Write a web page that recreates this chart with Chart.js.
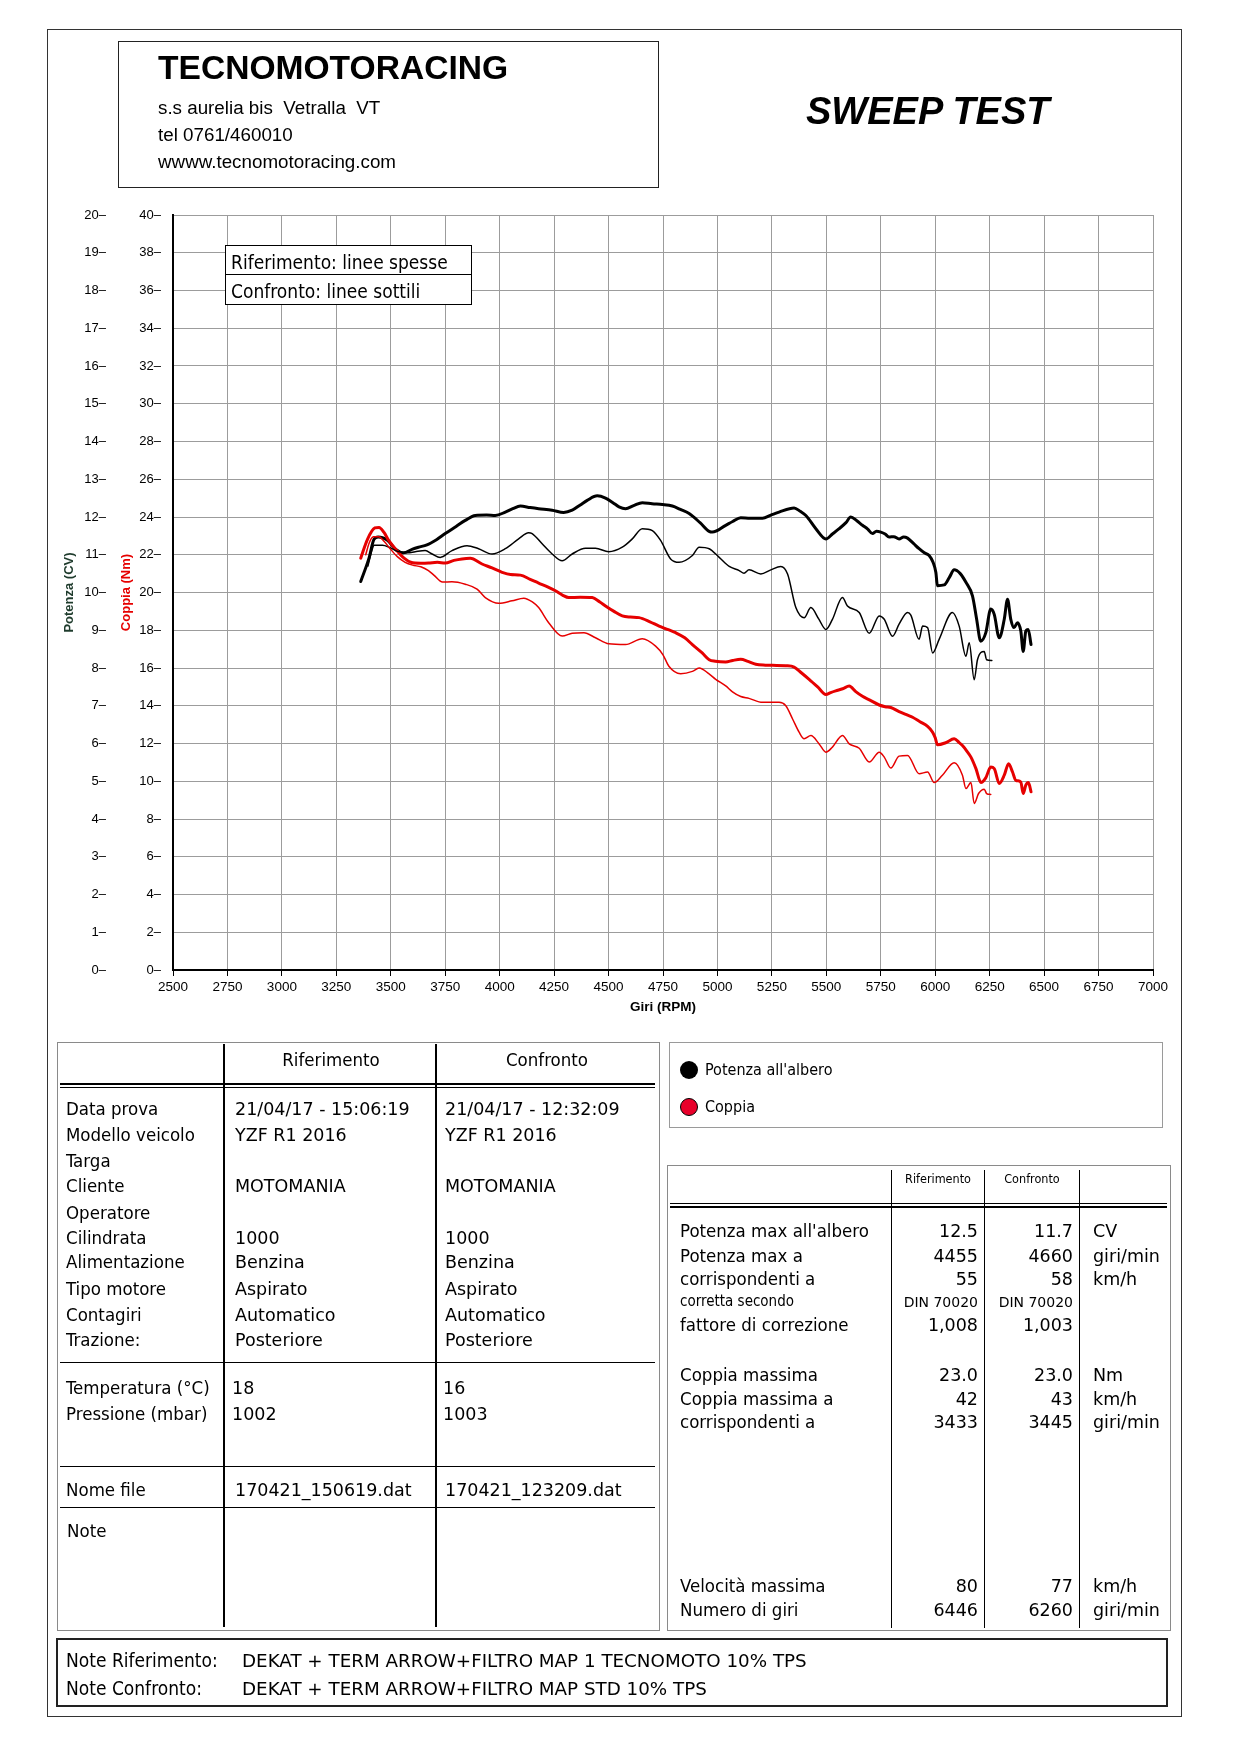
<!DOCTYPE html>
<html>
<head>
<meta charset="utf-8">
<script src="https://cdn.jsdelivr.net/npm/chart.js@4.4.1/dist/chart.umd.min.js"></script>
<style>
html,body{margin:0;padding:0;background:#fff;}
body{width:1240px;height:1754px;position:relative;overflow:hidden;color:#000;}
.t{position:absolute;white-space:pre;}
.ln{position:absolute;}
.bx{position:absolute;box-sizing:border-box;}
#cv{position:absolute;left:0;top:195px;}
</style>
</head>
<body>
<canvas id="cv" width="1240" height="835" style="width:1240px;height:835px"></canvas>
<script>
// ---------------- DATA ----------------
const rpmTicksMin = 2500, rpmTicksMax = 7000, rpmStep = 250;

// Riferimento (thick) - Potenza all'albero (CV)
const rpmRifPot = [3362,3400,3423,3442,3462,3485,3523,3558,3600,3627,3666,3710,3750,3800,3842,3888,3940,3980,4026,4060,4095,4140,4179,4241,4294,4333,4370,4402,4448,4486,4520,4548,4578,4615,4655,4700,4747,4793,4830,4870,4920,4962,4977,5038,5070,5107,5150,5207,5245,5283,5352,5380,5406,5452,5498,5528,5559,5590,5612,5640,5666,5690,5712,5730,5750,5770,5788,5810,5834,5855,5873,5900,5926,5950,5972,5990,6003,6010,6041,6065,6087,6115,6141,6171,6190,6209,6232,6255,6271,6294,6317,6332,6347,6362,6378,6393,6404,6416,6427,6440];
const cvRif = [10.29,10.91,11.41,11.47,11.45,11.38,11.14,11.05,11.15,11.2,11.26,11.4,11.56,11.75,11.91,12.04,12.05,12.04,12.13,12.22,12.29,12.25,12.22,12.18,12.12,12.18,12.32,12.44,12.56,12.5,12.38,12.27,12.22,12.3,12.38,12.35,12.33,12.29,12.2,12.09,11.85,11.62,11.6,11.78,11.88,11.98,11.97,11.97,12.05,12.13,12.24,12.15,12.04,11.69,11.42,11.55,11.69,11.85,12.0,11.9,11.78,11.68,11.56,11.62,11.6,11.55,11.47,11.48,11.42,11.47,11.44,11.3,11.16,11.05,10.98,10.8,10.53,10.18,10.2,10.4,10.6,10.5,10.27,9.91,9.3,8.71,8.93,9.56,9.42,8.8,9.29,9.82,9.29,9.07,9.2,8.98,8.44,8.98,9.02,8.62];

// Confronto (thin) - Potenza all'albero (CV)
const rpmConfPot = [3395,3415,3423,3462,3492,3531,3577,3612,3658,3690,3727,3781,3850,3903,3965,4026,4087,4133,4149,4195,4241,4287,4333,4394,4440,4501,4563,4609,4655,4701,4739,4785,4824,4885,4916,4962,5008,5054,5100,5122,5145,5199,5245,5291,5322,5360,5398,5429,5465,5498,5528,5574,5597,5651,5697,5743,5766,5804,5834,5873,5888,5926,5942,5965,5988,6018,6079,6110,6141,6156,6179,6194,6225,6236,6260];
const cvConf = [10.7,11.15,11.25,11.25,11.2,11.09,11.05,11.08,11.11,11.02,10.93,11.11,11.24,11.16,11.02,11.16,11.42,11.58,11.56,11.29,11.02,10.84,11.02,11.17,11.17,11.08,11.2,11.42,11.69,11.64,11.38,10.89,10.8,10.98,11.2,11.16,10.93,10.69,10.58,10.51,10.6,10.49,10.6,10.69,10.49,9.6,9.33,9.6,9.3,9.02,9.29,9.87,9.64,9.47,8.92,9.38,9.29,8.84,9.16,9.47,9.4,8.76,9.11,9.07,8.4,8.76,9.47,9.11,8.31,8.67,7.69,8.22,8.44,8.22,8.2];

// Riferimento (thick) - Coppia (Nm)
const rpmRifCop = [3362,3393,3427,3446,3469,3492,3531,3561,3592,3638,3673,3714,3750,3790,3827,3865,3919,3965,4011,4050,4095,4140,4179,4220,4256,4290,4317,4370,4425,4460,4486,4525,4563,4600,4640,4690,4732,4770,4808,4850,4885,4930,4962,4990,5038,5070,5107,5140,5176,5220,5253,5314,5352,5385,5421,5460,5498,5520,5543,5575,5605,5635,5666,5700,5743,5770,5796,5834,5873,5896,5930,5965,5988,6000,6010,6048,6087,6110,6125,6145,6164,6187,6210,6232,6255,6271,6294,6317,6337,6355,6370,6393,6404,6416,6428,6440];
const nmRif = [21.82,22.82,23.42,23.45,23.18,22.73,22.18,21.82,21.6,21.55,21.56,21.6,21.56,21.7,21.78,21.81,21.51,21.3,21.07,20.95,20.92,20.7,20.5,20.3,20.09,19.85,19.73,19.75,19.73,19.5,19.29,19.0,18.76,18.7,18.67,18.45,18.22,18.05,17.87,17.6,17.24,16.8,16.44,16.36,16.32,16.4,16.46,16.35,16.2,16.15,16.14,16.12,16.05,15.75,15.4,15.0,14.6,14.7,14.79,14.9,15.04,14.75,14.5,14.3,14.04,13.95,13.91,13.69,13.5,13.39,13.15,12.91,12.6,12.3,11.93,12.04,12.25,12.05,11.89,11.6,11.28,10.67,9.93,10.18,10.75,10.67,9.88,10.32,10.93,10.49,10.05,9.96,9.35,9.79,9.93,9.44];

// Confronto (thin) - Coppia (Nm)
const rpmConfCop = [3385,3400,3420,3445,3470,3495,3530,3566,3600,3638,3673,3699,3737,3781,3842,3896,3934,3996,4057,4111,4150,4179,4225,4287,4333,4387,4440,4501,4578,4655,4716,4750,4777,4831,4885,4916,4960,4992,5038,5069,5107,5145,5207,5283,5314,5345,5375,5398,5429,5467,5498,5528,5574,5605,5651,5697,5743,5766,5796,5834,5873,5926,5965,5995,6033,6087,6125,6141,6164,6179,6199,6225,6236,6255];
const nmConf = [22.0,22.6,22.95,22.95,22.7,22.35,21.9,21.6,21.45,21.36,21.16,20.91,20.55,20.57,20.44,20.18,19.73,19.43,19.56,19.7,19.5,19.2,18.4,17.69,17.84,17.87,17.6,17.28,17.24,17.55,17.16,16.7,16.09,15.7,15.82,16.0,15.7,15.4,15.05,14.74,14.49,14.39,14.18,14.18,14.0,13.3,12.6,12.25,12.42,11.98,11.54,11.81,12.42,11.98,11.75,11.02,11.54,11.28,10.7,11.33,11.37,10.4,10.49,9.93,10.32,10.98,10.32,9.61,9.93,8.82,9.35,9.58,9.35,9.3];

// ---------------- TEXT CONTENT ----------------
const COND = '"DejaVu Sans Condensed","DejaVu Sans",sans-serif';
const NORM = '"DejaVu Sans",sans-serif';
const ARIAL = '"Liberation Sans",Arial,sans-serif';

const infoLabels = ["Data prova","Modello veicolo","Targa","Cliente","Operatore","Cilindrata","Alimentazione","Tipo motore","Contagiri","Trazione:"];
const infoBase   = [1116,1142,1168,1193,1220,1245,1269,1296,1322,1347];
const infoRif    = ["21/04/17 - 15:06:19","YZF R1 2016","","MOTOMANIA","","1000","Benzina","Aspirato","Automatico","Posteriore"];
const infoConf   = ["21/04/17 - 12:32:09","YZF R1 2016","","MOTOMANIA","","1000","Benzina","Aspirato","Automatico","Posteriore"];

const perfLabels = ["Potenza max all'albero","Potenza max a","corrispondenti a","corretta secondo","fattore di correzione","Coppia massima","Coppia massima a","corrispondenti a","Velocità massima","Numero di giri"];
const perfBase   = [1238,1263,1286,1307,1332,1382,1406,1429,1593,1617];
const perfRif    = ["12.5","4455","55","DIN 70020","1,008","23.0","42","3433","80","6446"];
const perfConf   = ["11.7","4660","58","DIN 70020","1,003","23.0","43","3445","77","6260"];
const perfUnit   = ["CV","giri/min","km/h","","","Nm","km/h","giri/min","km/h","giri/min"];

// ---------------- HTML HELPERS ----------------
function T(text, x, base, size, o) {
  o = o || {};
  const d = document.createElement('div');
  d.className = 't';
  d.textContent = text;
  d.style.fontFamily = o.fam || COND;
  if (!o.fam) d.style.fontStretch = 'condensed';
  d.style.fontSize = size + 'px';
  d.style.lineHeight = size + 'px';
  d.style.fontWeight = o.bold ? 'bold' : 'normal';
  if (o.italic) d.style.fontStyle = 'italic';
  d.style.color = o.color || '#000';
  d.style.top = (base - size / 2 - 0.346 * size) + 'px';
  d.style.left = x + 'px';
  if (o.align === 'right') d.style.transform = 'translateX(-100%)';
  if (o.align === 'center') d.style.transform = 'translateX(-50%)';
  document.body.appendChild(d);
  return d;
}
function H(x1, x2, y, w, c) {
  const d = document.createElement('div'); d.className = 'ln';
  d.style.left = x1 + 'px'; d.style.width = (x2 - x1) + 'px';
  d.style.top = (y - w / 2) + 'px'; d.style.height = w + 'px'; d.style.background = c || '#000';
  document.body.appendChild(d);
}
function V(x, y1, y2, w, c) {
  const d = document.createElement('div'); d.className = 'ln';
  d.style.top = y1 + 'px'; d.style.height = (y2 - y1) + 'px';
  d.style.left = (x - w / 2) + 'px'; d.style.width = w + 'px'; d.style.background = c || '#000';
  document.body.appendChild(d);
}
function B(x1, y1, x2, y2, w, c, bg) {
  const d = document.createElement('div'); d.className = 'bx';
  d.style.left = x1 + 'px'; d.style.top = y1 + 'px';
  d.style.width = (x2 - x1) + 'px'; d.style.height = (y2 - y1) + 'px';
  d.style.border = w + 'px solid ' + (c || '#000');
  if (bg) d.style.background = bg;
  document.body.appendChild(d);
  return d;
}

// ---------------- PAGE FRAME ----------------
B(47, 29, 1182, 1717, 1.5, '#333');
B(118, 41, 659, 188, 1.5, '#222');
T("TECNOMOTORACING", 158, 79, 33.6, {fam: ARIAL, bold: true});
T("s.s aurelia bis  Vetralla  VT", 158, 115, 18.8, {fam: ARIAL});
T("tel 0761/460010", 158, 142, 18.8, {fam: ARIAL});
T("wwww.tecnomotoracing.com", 158, 169, 18.8, {fam: ARIAL});
T("SWEEP TEST", 806, 124, 38, {fam: ARIAL, bold: true, italic: true});

// ---------------- CHART ----------------
function pts(xs, ys) { return xs.map((x, i) => ({x: x, y: ys[i]})); }
const RED = '#e60000';

const chart = new Chart(document.getElementById('cv'), {
  type: 'line',
  data: {
    datasets: [
      {label: 'Coppia Confronto', data: pts(rpmConfCop, nmConf), yAxisID: 'yNm', borderColor: RED, borderWidth: 1.5},
      {label: 'Potenza Confronto', data: pts(rpmConfPot, cvConf), yAxisID: 'yCV', borderColor: '#000', borderWidth: 1.5},
      {label: 'Coppia Riferimento', data: pts(rpmRifCop, nmRif), yAxisID: 'yNm', borderColor: RED, borderWidth: 3},
      {label: 'Potenza Riferimento', data: pts(rpmRifPot, cvRif), yAxisID: 'yCV', borderColor: '#000', borderWidth: 3}
    ]
  },
  options: {
    responsive: false,
    animation: false,
    devicePixelRatio: 1,
    layout: {padding: {left: 50, right: 87, top: 20, bottom: 0}},
    elements: {point: {radius: 0}, line: {cubicInterpolationMode: 'monotone', borderJoinStyle: 'round', borderCapStyle: 'round'}},
    plugins: {legend: {display: false}, tooltip: {enabled: false}},
    scales: {
      x: {
        type: 'linear', min: rpmTicksMin, max: rpmTicksMax,
        ticks: {stepSize: rpmStep, color: '#000', padding: 3, maxRotation: 0, autoSkip: false,
                font: {family: '"Liberation Sans Narrow","Liberation Sans",Arial', size: 13.5},
                callback: v => String(v)},
        grid: {color: '#9c9c9c', lineWidth: 1, drawTicks: true, tickLength: 6, tickColor: '#000'},
        border: {display: true, color: '#000', width: 2},
        title: {display: true, text: 'Giri (RPM)', color: '#000', padding: {top: 0, bottom: 15},
                font: {family: '"Liberation Sans Narrow","Liberation Sans",Arial', size: 13.5, weight: 'bold'}},
        afterFit: s => { s.height = 60; }
      },
      yCV: {
        type: 'linear', position: 'left', weight: 10, min: 0, max: 20,
        ticks: {stepSize: 1, color: '#000', padding: 10, font: {family: ARIAL, size: 13}, callback: v => v + '–'},
        grid: {display: false, drawTicks: false},
        border: {display: false},
        title: {display: true, text: 'Potenza (CV)', color: '#1e3b2c', padding: {top: 11.3, bottom: 0},
                font: {family: ARIAL, size: 13, weight: 'bold'}},
        afterFit: s => { s.width = 66; }
      },
      yNm: {
        type: 'linear', position: 'left', weight: 0, min: 0, max: 40,
        ticks: {stepSize: 2, color: '#000', padding: 12, font: {family: ARIAL, size: 13}, callback: v => v + '–'},
        grid: {color: '#9c9c9c', lineWidth: 1, drawTicks: false},
        border: {display: true, color: '#000', width: 2},
        title: {display: true, text: 'Coppia (Nm)', color: RED, padding: {top: 2.3, bottom: 0},
                font: {family: ARIAL, size: 13, weight: 'bold'}},
        afterFit: s => { s.width = 57; }
      }
    }
  }
});

// legend box inside the chart
B(225, 245, 472, 305, 1.5, '#000', '#fff');
H(225, 472, 274.5, 1.5);
T("Riferimento: linee spesse", 231, 269, 19);
T("Confronto: linee sottili", 231, 298, 19);

// ---------------- LEFT TABLE ----------------
const VAL = {fam: NORM};
B(57, 1042, 660, 1631, 1.5, '#8a8a8a');
V(224, 1044, 1627, 1.5); V(436, 1044, 1627, 1.5);
H(60, 655, 1084, 1.3); H(60, 655, 1087.5, 1.3);
H(60, 655, 1362.5, 1.5); H(60, 655, 1466.5, 1.5); H(60, 655, 1507.5, 1.5);
T("Riferimento", 331, 1067, 18.5, {align: 'center'});
T("Confronto", 547, 1067, 18.5, {align: 'center'});
infoLabels.forEach((s, i) => {
  T(s, 66, infoBase[i], 18.5);
  if (infoRif[i]) T(infoRif[i], 235, infoBase[i], 17.5, VAL);
  if (infoConf[i]) T(infoConf[i], 445, infoBase[i], 17.5, VAL);
});
T("Temperatura (°C)", 66, 1395, 18.5); T("18", 232, 1395, 17.5, VAL); T("16", 443, 1395, 17.5, VAL);
T("Pressione (mbar)", 66, 1421, 18.5); T("1002", 232, 1421, 17.5, VAL); T("1003", 443, 1421, 17.5, VAL);
T("Nome file", 66, 1497, 18.5); T("170421_150619.dat", 235, 1497, 17.5, VAL); T("170421_123209.dat", 445, 1497, 17.5, VAL);
T("Note", 67, 1538, 18.5);

// ---------------- LEGEND BOX ----------------
B(669, 1042, 1163, 1128, 1.5, '#9a9a9a');
(function(){
  const c1 = document.createElement('div'); c1.className = 'bx';
  c1.style.cssText = 'left:680px;top:1061px;width:18px;height:18px;border-radius:50%;background:#000;';
  document.body.appendChild(c1);
  const c2 = document.createElement('div'); c2.className = 'bx';
  c2.style.cssText = 'left:680px;top:1098px;width:18px;height:18px;border-radius:50%;background:#e8002a;border:1.5px solid #000;';
  document.body.appendChild(c2);
})();
T("Potenza all'albero", 705, 1076, 16);
T("Coppia", 705, 1113, 16);

// ---------------- RIGHT TABLE ----------------
B(667, 1165, 1171, 1631, 1.5, '#8a8a8a');
V(891.5, 1170, 1628, 1.5); V(984.5, 1170, 1628, 1.5); V(1079.5, 1170, 1628, 1.5);
H(670, 1167, 1203.5, 1.3); H(670, 1167, 1207, 1.3);
T("Riferimento", 938, 1184, 12.5, {align: 'center'});
T("Confronto", 1032, 1184, 12.5, {align: 'center'});
perfLabels.forEach((s, i) => {
  const small = (i === 3);
  T(s, 680, perfBase[i], small ? 15 : 18.5);
  const vs = small ? 14 : 17.5;
  T(perfRif[i], 978, perfBase[i], vs, {align: 'right', fam: NORM});
  T(perfConf[i], 1073, perfBase[i], vs, {align: 'right', fam: NORM});
  if (perfUnit[i]) T(perfUnit[i], 1093, perfBase[i], 17.5, {fam: NORM});
});

// ---------------- NOTES ----------------
B(56, 1638, 1168, 1707, 2, '#222');
T("Note Riferimento:", 66, 1667, 19);
T("DEKAT + TERM ARROW+FILTRO MAP 1 TECNOMOTO 10% TPS", 242, 1667, 18.3, {fam: NORM});
T("Note Confronto:", 66, 1695, 19);
T("DEKAT + TERM ARROW+FILTRO MAP STD 10% TPS", 242, 1695, 18.3, {fam: NORM});
</script>
</body>
</html>
